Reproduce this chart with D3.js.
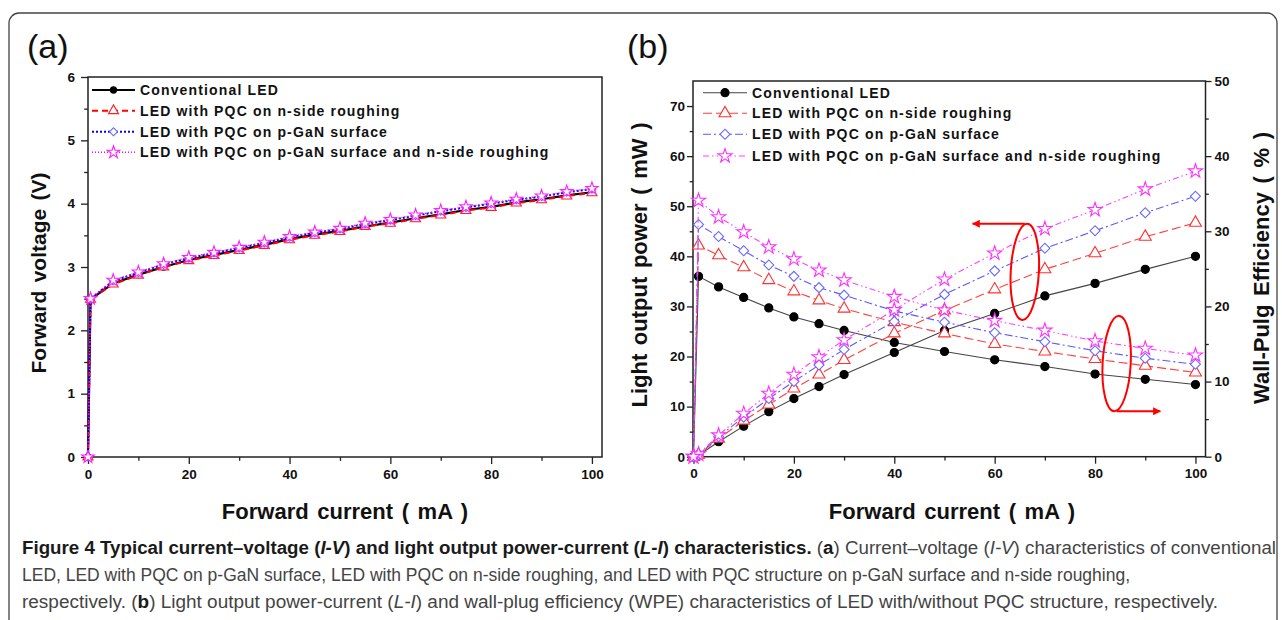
<!DOCTYPE html>
<html><head><meta charset="utf-8">
<script src="https://cdn.jsdelivr.net/npm/d3@7"></script>
<style>
body{margin:0;background:#fff;}
svg text{font-family:Arial,"Liberation Sans",sans-serif;}
</style></head><body>
<svg id="fig" width="1282" height="620"></svg>
<script>
/* ---------- data ---------- */
const legendNames=["Conventional LED","LED with PQC on n-side roughing","LED with PQC on p-GaN surface","LED with PQC on p-GaN surface and n-side roughing"];

// (a) I-V
const ivCurrent=[0,0.5,5,10,15,20,25,30,35,40,45,50,55,60,65,70,75,80,85,90,95,100];
const ivConv =[0,2.49,2.74,2.88,3.00,3.11,3.19,3.27,3.35,3.44,3.51,3.57,3.64,3.70,3.77,3.83,3.90,3.95,4.02,4.07,4.13,4.18];
const ivNside=[0,2.49,2.73,2.87,3.00,3.10,3.18,3.26,3.34,3.43,3.50,3.56,3.64,3.69,3.76,3.82,3.89,3.94,4.01,4.06,4.12,4.17];
const ivPgan =[0,2.50,2.78,2.91,3.04,3.14,3.22,3.30,3.38,3.47,3.54,3.60,3.68,3.74,3.81,3.88,3.94,4.00,4.06,4.11,4.18,4.23];
const ivBoth =[0,2.50,2.79,2.92,3.05,3.15,3.23,3.31,3.39,3.48,3.55,3.61,3.69,3.75,3.82,3.89,3.95,4.01,4.07,4.12,4.19,4.24];

// (b) L-I and WPE
const liCurrent=[0,1,5,10,15,20,25,30,40,50,60,70,80,90,100];
const powConv =[0,0.3,3.0,6.1,9.0,11.6,14.0,16.4,20.8,25.2,28.6,32.1,34.6,37.4,40.0];
const powNside=[0,0.4,3.6,7.2,10.4,13.6,16.4,19.3,24.6,29.2,33.4,37.4,40.6,43.9,46.7];
const powPgan =[0,0.4,4.0,7.9,11.6,15.0,18.3,21.4,27.0,32.4,37.1,41.6,45.1,48.7,52.0];
const powBoth =[0,0.5,4.3,8.6,12.6,16.4,19.9,23.3,29.3,35.4,40.6,45.5,49.3,53.4,57.0];
const wpeConv =[0,24.0,22.6,21.2,19.8,18.6,17.7,16.8,15.2,14.0,12.9,12.0,11.0,10.3,9.6];
const wpeNside=[0,28.1,26.8,25.2,23.5,22.0,20.8,19.7,17.9,16.4,15.0,14.0,13.0,12.1,11.2];
const wpePgan =[0,30.9,29.3,27.4,25.5,24.0,22.5,21.5,19.4,17.9,16.5,15.3,14.1,13.1,12.3];
const wpeBoth =[0,34.1,31.9,29.9,27.9,26.3,24.8,23.5,21.3,19.5,18.1,16.8,15.4,14.4,13.5];

// ticks
const xMajor=[0,20,40,60,80,100], xMinor=[10,30,50,70,90];
const vMajor=[0,1,2,3,4,5,6], vMinor=[0.5,1.5,2.5,3.5,4.5,5.5];
const pMajor=[0,10,20,30,40,50,60,70], pMinor=[5,15,25,35,45,55,65];
const eMajor=[0,10,20,30,40,50], eMinor=[5,15,25,35,45];

// annotation ellipses/arrows (data units)
const ovalLeft ={cx:66,cy:36.9,rx:2.8,ry:9.6,toX:55.6,arrowY:46.5};
const ovalRight={cx:84.3,cy:12.4,rx:2.8,ry:6.35,toX:93,arrowY:6.05};

/* ---------- styles ---------- */
const styA=[
  {line:"#000",dash:null,w:2.2,sym:d3.symbolCircle,mk:"#000",fill:"#000",size:30,rot:0},
  {line:"#ff0000",dash:"6,4",w:2,sym:d3.symbolTriangle,mk:"#ff2020",fill:"#fff",size:44,rot:0},
  {line:"#0000ff",dash:"2,2",w:2,sym:d3.symbolSquare,mk:"#6a6aff",fill:"#fff",size:32,rot:45},
  {line:"#ff00ff",dash:"1,2",w:1.5,sym:d3.symbolStar,mk:"#ff20ff",fill:"#fff",size:48,rot:0}
];
const styB=[
  {line:"#444",dash:null,w:1.1,sym:d3.symbolCircle,mk:"#000",fill:"#000",size:52,rot:0},
  {line:"#ff4040",dash:"9,4",w:1.1,sym:d3.symbolTriangle,mk:"#ff3030",fill:"#fff",size:62,rot:0},
  {line:"#5a5aff",dash:"8,3,2,3",w:1.1,sym:d3.symbolSquare,mk:"#6a6aff",fill:"#fff",size:50,rot:45},
  {line:"#ff40ff",dash:"6,3,1.5,3,1.5,3",w:1.1,sym:d3.symbolStar,mk:"#ff30ff",fill:"#fff",size:62,rot:0}
];

const svg=d3.select("#fig");

/* outer frame */
svg.append("rect").attr("x",9).attr("y",13).attr("width",1268).attr("height",700)
   .attr("rx",10).attr("fill","none").attr("stroke","#444").attr("stroke-width",1.3);

/* ---------- helpers ---------- */
function styleAxis(g){
  g.select(".domain").remove();
  g.selectAll("line").attr("stroke","#222").attr("stroke-width",1.3);
  g.selectAll("text").attr("font-size",13.5).attr("font-weight","bold").attr("fill","#111")
   .attr("font-family","Arial,'Liberation Sans',sans-serif");
}
function axes(gen,scale,pos,major,minor,size,pad){
  const a=svg.append("g").attr("transform",pos)
    .call(gen(scale).tickValues(major).tickSize(size).tickPadding(pad).tickFormat(d3.format("d")));
  styleAxis(a);
  const m=svg.append("g").attr("transform",pos)
    .call(gen(scale).tickValues(minor).tickSize(size*0.55).tickFormat(""));
  styleAxis(m);
}
function marker(g,s,pts){
  g.selectAll(null).data(pts).join("path")
    .attr("d",d3.symbol().type(s.sym).size(s.size))
    .attr("transform",d=>`translate(${d[0]},${d[1]}) rotate(${s.rot})`)
    .attr("fill",s.fill).attr("stroke",s.mk).attr("stroke-width",1.1);
}
function series(g,s,pts){
  g.append("path").attr("d",d3.line()(pts)).attr("fill","none")
    .attr("stroke",s.line).attr("stroke-width",s.w)
    .attr("stroke-dasharray",s.dash);
  marker(g,s,pts);
}
function legend(x0,x1,tx,rows,sty){
  legendNames.forEach((name,i)=>{
    const y=rows[i], s=sty[i];
    const g=svg.append("g");
    g.append("line").attr("x1",x0).attr("x2",x1).attr("y1",y).attr("y2",y)
      .attr("stroke",s.line).attr("stroke-width",s.w).attr("stroke-dasharray",s.dash);
    marker(g,s,[[(x0+x1)/2,y]]);
    svg.append("text").attr("x",tx).attr("y",y+5).attr("font-size",14).attr("font-weight","bold")
      .attr("letter-spacing",1.15).attr("fill","#111").text(name);
  });
}
function title(x,y,rot,txt,size){
  svg.append("text").attr("transform",`translate(${x},${y}) rotate(${rot})`)
    .attr("text-anchor","middle").attr("font-size",size).attr("font-weight","bold")
    .attr("word-spacing",2.5).attr("fill","#111").text(txt);
}

/* ================= panel (a) ================= */
const xa=d3.scaleLinear().domain([0,102]).range([88,602]);
const ya=d3.scaleLinear().domain([0,6]).range([457,77]);

svg.append("rect").attr("x",88).attr("y",77).attr("width",514).attr("height",380)
   .attr("fill","none").attr("stroke","#222").attr("stroke-width",1.5);
axes(d3.axisBottom,xa,"translate(0,457)",xMajor,xMinor,7,5);
axes(d3.axisLeft,ya,"translate(88,0)",vMajor,vMinor,7,6);

const gA=svg.append("g");
[ivConv,ivNside,ivPgan,ivBoth].forEach((arr,i)=>{
  series(gA,styA[i],ivCurrent.map((c,j)=>[xa(c),ya(arr[j])]));
});
legend(92,135,140,[90,110.7,131.7,152.3],styA);

title(46,273,-90,"Forward voltage (V)",21);
title(345,519,0,"Forward current ( mA )",22);
svg.append("text").attr("x",27).attr("y",58).attr("font-family","'Open Sans',sans-serif")
   .attr("font-size",34).attr("fill","#111").text("(a)");

/* ================= panel (b) ================= */
const xb=d3.scaleLinear().domain([0,102]).range([693.5,1205.5]);
const yL=d3.scaleLinear().domain([0,75]).range([456.7,81]);
const yR=d3.scaleLinear().domain([0,50]).range([456.7,81]);

svg.append("rect").attr("x",693).attr("y",81).attr("width",512.5).attr("height",375.7)
   .attr("fill","none").attr("stroke","#222").attr("stroke-width",1.5);
axes(d3.axisBottom,xb,"translate(0,456.7)",xMajor,xMinor,7,5);
axes(d3.axisLeft,yL,"translate(693,0)",pMajor,pMinor,6,2);
axes(d3.axisRight,yR,"translate(1205.5,0)",eMajor,eMinor,6,3);

const gB=svg.append("g");
const powSets=[powConv,powNside,powPgan,powBoth], wpeSets=[wpeConv,wpeNside,wpePgan,wpeBoth];
powSets.forEach((arr,i)=>{
  series(gB,styB[i],liCurrent.map((c,j)=>[xb(c),yL(arr[j])]));
  series(gB,styB[i],liCurrent.map((c,j)=>[xb(c),yR(wpeSets[i][j])]));
});
legend(703,747,752,[92.7,113.3,134.3,156],styB);

/* red ovals + arrows */
const red="#ff0000";
const defs=svg.append("defs");
defs.append("marker").attr("id","ah").attr("viewBox","0 0 10 10").attr("refX",9).attr("refY",5)
  .attr("markerWidth",4).attr("markerHeight",4).attr("orient","auto-start-reverse")
  .append("path").attr("d","M0,0L10,5L0,10z").attr("fill",red);
function oval(o,ys){
  const cx=xb(o.cx), cy=ys(o.cy);
  svg.append("ellipse").attr("cx",cx).attr("cy",cy)
    .attr("rx",xb(o.cx+o.rx)-cx).attr("ry",cy-ys(o.cy+o.ry))
    .attr("transform",`rotate(3,${cx},${cy})`)
    .attr("fill","none").attr("stroke",red).attr("stroke-width",2);
  svg.append("line").attr("x1",cx).attr("y1",ys(o.arrowY)).attr("x2",xb(o.toX)).attr("y2",ys(o.arrowY))
    .attr("stroke",red).attr("stroke-width",2).attr("marker-end","url(#ah)");
}
oval(ovalLeft,yL);
oval(ovalRight,yR);

title(647,265,-90,"Light output power ( mW )",22);
title(1269,268,-90,"Wall-Pulg Efficiency ( % )",22);
title(952,519,0,"Forward current ( mA )",22);
svg.append("text").attr("x",627).attr("y",58).attr("font-family","'Open Sans',sans-serif")
   .attr("font-size",34).attr("fill","#111").text("(b)");

/* ---------- caption ---------- */
const capLines=[
  [["b","Figure 4 Typical current–voltage ("],["bi","I-V"],["b",") and light output power-current ("],["bi","L-I"],["b",") characteristics."],
   ["r"," ("],["b","a"],["r",") Current–voltage ("],["i","I-V"],["r",") characteristics of conventional"]],
  [["r","LED, LED with PQC on p-GaN surface, LED with PQC on n-side roughing, and LED with PQC structure on p-GaN surface and n-side roughing,"]],
  [["r","respectively. ("],["b","b"],["r",") Light output power-current ("],["i","L-I"],["r",") and wall-plug efficiency (WPE) characteristics of LED with/without PQC structure, respectively."]]
];
const capWidth=[1254,1108,1196], capBase=[554,581,608];
capLines.forEach((parts,i)=>{
  const t=svg.append("text").attr("x",22).attr("y",capBase[i])
    .attr("font-family","'Open Sans','Noto Sans',sans-serif").attr("font-size",17.5)
    .attr("textLength",capWidth[i]).attr("lengthAdjust","spacingAndGlyphs");
  parts.forEach(([k,s])=>{
    t.append("tspan").text(s)
      .attr("font-weight",k[0]==="b"?"bold":"normal")
      .attr("font-style",k.includes("i")?"italic":"normal")
      .attr("fill",k[0]==="b"?"#1a1a1a":"#444");
  });
});
</script></body></html>
